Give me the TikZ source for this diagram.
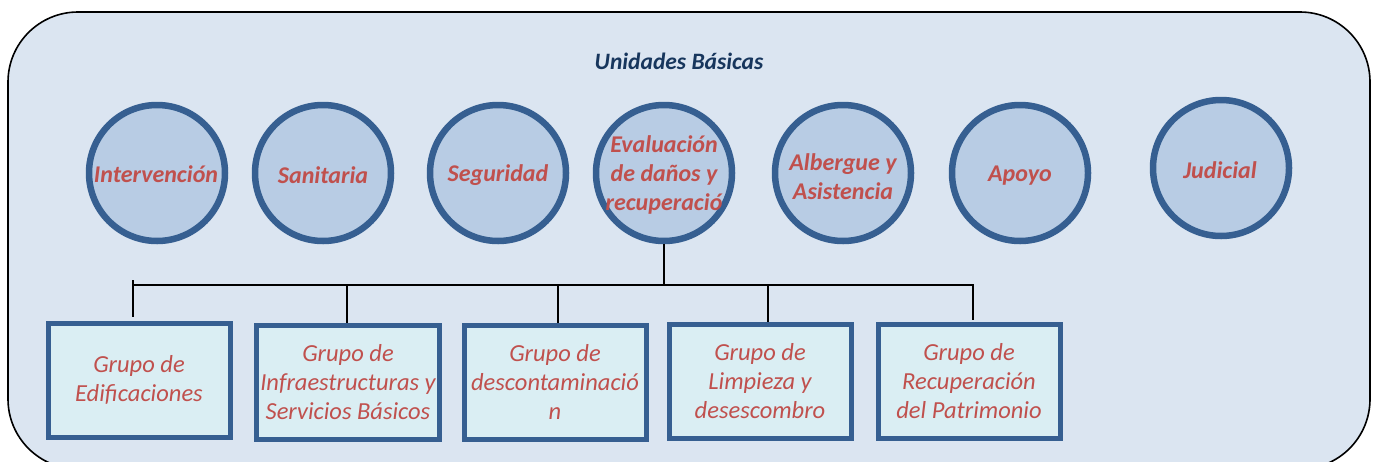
\documentclass[tikz,border=0pt]{standalone}
\usepackage{fontspec}
\setmainfont{Carlito}
\definecolor{fondo}{HTML}{DBE5F1}
\definecolor{relleno}{HTML}{B8CCE4}
\definecolor{borde}{HTML}{365F91}
\definecolor{cajafondo}{HTML}{DAEEF3}
\definecolor{rojo}{HTML}{C0504D}
\definecolor{titulo}{HTML}{17365D}
\tikzset{
  unidad/.style={circle,draw=borde,fill=relleno,line width=6.5pt,minimum size=136pt,inner sep=0pt},
  rotulo/.style={align=center,text=rojo,font=\fontsize{24}{29}\selectfont\bfseries\itshape,inner sep=0pt},
  grupo/.style={draw=borde,fill=cajafondo,line width=5pt,minimum width=182pt,minimum height=114pt,
    align=center,text=rojo,font=\fontsize{24.5}{29}\selectfont\itshape},
  enlace/.style={line width=1.6pt,black},
}
\begin{document}
\begin{tikzpicture}[x=1pt,y=-1pt]
                \useasboundingbox (0,0) rectangle (1373,461);
                \clip (0,0) rectangle (1373,461);
                \draw[fill=fondo,line width=1.6pt,rounded corners=70pt] (8,12) rectangle (1370,469);
                \node[text=titulo,font=\fontsize{23.5}{26}\selectfont\bfseries\itshape] (tit) at (679,61) {Unidades Básicas};
                % unidades
                \node[unidad] (c1) at (157,173) {};
                \node[unidad] (c2) at (323,173) {};
                \node[unidad] (c3) at (498,173) {};
                \node[unidad] (c4) at (664,173) {};
                \node[unidad] (c5) at (843,173) {};
                \node[unidad] (c6) at (1020,173) {};
                \node[unidad] (c7) at (1221,168) {};
                \node[rotulo] (t1) at (156,174) {Intervención};
                \node[rotulo] (t2) at (323,175) {Sanitaria};
                \node[rotulo] (t3) at (498,175) {Seguridad};
                \node[rotulo] (t4) at (664,175) {Evaluación\\de daños y\\recuperació};
                \node[rotulo] (t5) at (843,177) {Albergue y\\Asistencia};
                \node[rotulo] (t6) at (1020,176) {Apoyo};
                \node[rotulo] (t7) at (1220,170) {Judicial};
                % grupos
                \node[grupo] (g1) at (139,380) {Grupo de\\Edificaciones};
                \node[grupo] (g2) at (348,382) {Grupo de\\Infraestructuras y\\Servicios Básicos};
                \node[grupo] (g3) at (555,382) {Grupo de\\descontaminació\\n};
                \node[grupo] (g4) at (760,381) {Grupo de\\Limpieza y\\desescombro};
                \node[grupo] (g5) at (969,381) {Grupo de\\Recuperación\\del Patrimonio};
                % conexiones
                \coordinate (bus) at (664,285);
                \coordinate (b1) at ([xshift=-6pt]g1.north |- bus);
                \coordinate (b5) at ([xshift=4pt]g5.north |- bus);
                \draw[enlace] (c4.south) -- (bus);
                \draw[enlace] (b1) -- (b5) -- ([xshift=4pt,yshift=2pt]g5.north);
                \draw[enlace] ([yshift=5pt]b1) -- ([yshift=-32pt]b1);
                \draw[enlace] ([xshift=-1pt]g2.north |- bus) -- ([xshift=-1pt]g2.north);
                \draw[enlace] ([xshift=3pt]g3.north |- bus) -- ([xshift=3pt]g3.north);
                \draw[enlace] ([xshift=8pt]g4.north |- bus) -- ([xshift=8pt]g4.north);
            \end{tikzpicture}
\end{document}
